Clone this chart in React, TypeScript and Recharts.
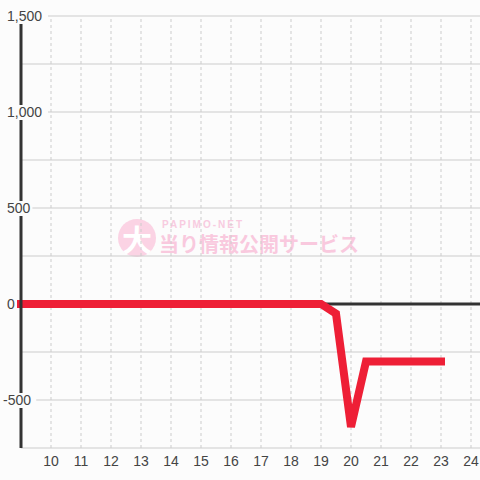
import { LineChart, Line, XAxis, YAxis, CartesianGrid, ReferenceLine } from 'recharts'

const rounds = [9, 10, 11, 12, 13, 14, 15, 16, 17, 18, 19, 19.5, 20, 20.5, 21, 22, 23]
const balance = [0, 0, 0, 0, 0, 0, 0, 0, 0, 0, 0, -50, -640, -300, -300, -300, -300]
const xTicks = [10, 11, 12, 13, 14, 15, 16, 17, 18, 19, 20, 21, 22, 23, 24]
const yTicks = [-750, -500, -250, 0, 250, 500, 750, 1000, 1250, 1500]
const yLabelled = [-500, 0, 500, 1000, 1500]

const data = rounds.map((x, i) => ({ x, value: balance[i] }))

const BG = '#fcfcfc'
const FONT = '"Liberation Sans", Arial, sans-serif'

function YTick(props: any) {
    const { y, payload } = props
    const v = payload.value
    if (!yLabelled.includes(v)) return null
    const label = v.toLocaleString('en-US')
    const w = label.length * 7.8 + 4
    const tx = v < 0 ? 3 : 7
    return (
        <g>
            <rect x={tx - 2} y={y - 7} width={w} height={15} fill={BG} />
            <text x={tx} y={y} dy={5} fontSize={14} fill="#444" fontFamily={FONT} textAnchor="start">
                {label}
            </text>
        </g>
    )
}

export default function App() {
    return (
        <div style={{ position: 'fixed', left: 0, top: 0, width: 480, height: 480, background: BG }}>
            <div style={{ position: 'absolute', left: 118, top: 219, width: 38, height: 38, borderRadius: 19, background: '#fbd3e4' }}>
                <div style={{ position: 'absolute', left: 0, top: 0, width: 38, lineHeight: '38px', textAlign: 'center', color: '#fff', fontSize: 30, fontWeight: 700, fontFamily: '"Noto Sans CJK JP"' }}>
                    大
                </div>
            </div>
            <div style={{ position: 'absolute', left: 162, top: 219, fontSize: 10, letterSpacing: 2, color: '#f8cbe0', fontFamily: FONT, fontWeight: 700 }}>
                PAPIMO-NET
            </div>
            <div style={{ position: 'absolute', left: 159, top: 229, fontSize: 20, lineHeight: '30px', fontWeight: 700, color: '#f9c9de', fontFamily: '"Noto Sans CJK JP"' }}>
                当り情報公開サービス
            </div>
            <div style={{ position: 'absolute', left: 0, top: 0 }}>
                <LineChart width={480} height={480} data={data} margin={{ top: 16, right: 0, left: 0, bottom: 0 }}>
                    <CartesianGrid vertical={false} stroke="#ccc" />
                    {xTicks.map((t) => (
                        <ReferenceLine key={t} x={t} stroke="#ccc" strokeDasharray="3 3" />
                    ))}
                    <XAxis
                        type="number"
                        dataKey="x"
                        domain={[9, 24.3]}
                        ticks={xTicks}
                        axisLine={false}
                        tickLine={false}
                        height={32}
                        tick={{ fontSize: 14, fill: '#444', fontFamily: FONT }}
                    />
                    <YAxis
                        type="number"
                        domain={[-750, 1500]}
                        ticks={yTicks}
                        width={21}
                        axisLine={{ stroke: '#333', strokeWidth: 3 }}
                        tickLine={false}
                        tick={<YTick />}
                    />
                    <ReferenceLine y={0} stroke="#333" strokeWidth={3} />
                    <Line
                        type="linear"
                        dataKey="value"
                        stroke="#ee1f36"
                        strokeWidth={8}
                        strokeLinecap="square"
                        dot={false}
                        isAnimationActive={false}
                    />
                </LineChart>
            </div>
        </div>
    )
}
